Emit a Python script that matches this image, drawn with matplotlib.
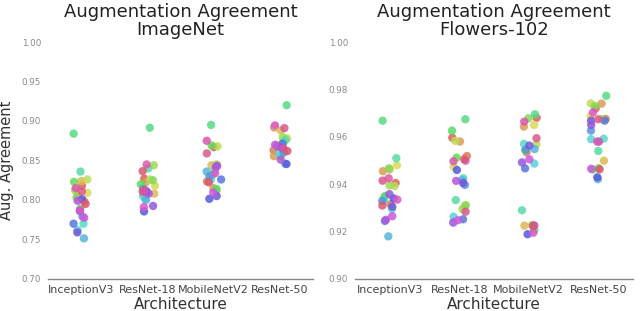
import numpy as np
import pandas as pd
import matplotlib
matplotlib.use("Agg")
import matplotlib.pyplot as plt
import seaborn as sns

architectures = ["InceptionV3", "ResNet-18", "MobileNetV2", "ResNet-50"]

# one value per run (hue index 0..25) for each architecture
imagenet_inception = [0.818, 0.798, 0.806, 0.824, 0.809, 0.826, 0.812, 0.803, 0.823, 0.789,
                      0.884, 0.836, 0.770, 0.762, 0.7515, 0.779, 0.770, 0.801, 0.759, 0.786,
                      0.799, 0.7775, 0.787, 0.815, 0.811, 0.795]
imagenet_resnet18 = [0.827, 0.815, 0.822, 0.808, 0.818, 0.826, 0.844, 0.825, 0.806, 0.820,
                     0.8915, 0.840, 0.802, 0.805, 0.800, 0.809, 0.813, 0.7855, 0.811, 0.7925,
                     0.808, 0.812, 0.791, 0.845, 0.8105, 0.8365]
imagenet_mobilenet = [0.867, 0.8235, 0.815, 0.844, 0.845, 0.868, 0.812, 0.8445, 0.869, 0.814,
                      0.895, 0.838, 0.826, 0.832, 0.836, 0.830, 0.826, 0.8015, 0.805, 0.842,
                      0.843, 0.8095, 0.834, 0.875, 0.859, 0.8225]
imagenet_resnet50 = [0.892, 0.863, 0.8555, 0.888, 0.893, 0.878, 0.8795, 0.856, 0.872, 0.869,
                     0.920, 0.876, 0.862, 0.858, 0.846, 0.860, 0.8715, 0.8455, 0.866, 0.868,
                     0.851, 0.870, 0.8945, 0.8655, 0.891, 0.862]

flowers_inception = [0.9405, 0.9315, 0.9455, 0.9462, 0.948, 0.9392, 0.9395, 0.9467, 0.935, 0.9345,
                     0.9668, 0.951, 0.9295, 0.9332, 0.918, 0.933, 0.9245, 0.934, 0.9305, 0.9358,
                     0.925, 0.9265, 0.9335, 0.9425, 0.9415, 0.931]
flowers_resnet18 = [0.9596, 0.9519, 0.958, 0.9307, 0.9474, 0.9583, 0.9295, 0.9312, 0.9512, 0.9626,
                    0.9674, 0.9333, 0.9425, 0.9263, 0.9418, 0.9397, 0.9252, 0.946, 0.9405, 0.9238,
                    0.9414, 0.9248, 0.9499, 0.9497, 0.9284, 0.9505]
flowers_mobilenet = [0.968, 0.9535, 0.9643, 0.9225, 0.965, 0.9568, 0.9228, 0.9678, 0.9544, 0.9207,
                     0.9695, 0.929, 0.957, 0.9487, 0.9548, 0.9545, 0.9467, 0.9189, 0.9563, 0.9492,
                     0.9226, 0.9505, 0.9195, 0.9664, 0.9594, 0.9224]
flowers_resnet50 = [0.972, 0.9675, 0.974, 0.9499, 0.9688, 0.9741, 0.9675, 0.973, 0.9467, 0.9462,
                    0.9773, 0.954, 0.9592, 0.959, 0.9421, 0.9626, 0.9668, 0.9429, 0.9668, 0.965,
                    0.958, 0.9465, 0.9703, 0.958, 0.9674, 0.9463]

imagenet_ticks = [0.70, 0.75, 0.80, 0.85, 0.90, 0.95, 1.00]
flowers_ticks = [0.90, 0.92, 0.94, 0.96, 0.98, 1.00]


def make_df(series):
    rows = []
    for arch, vals in zip(architectures, series):
        for run, v in enumerate(vals):
            rows.append({"Architecture": arch, "run": run, "value": v})
    return pd.DataFrame(rows)


df_img = make_df([imagenet_inception, imagenet_resnet18, imagenet_mobilenet, imagenet_resnet50])
df_flo = make_df([flowers_inception, flowers_resnet18, flowers_mobilenet, flowers_resnet50])

sns.set_style("white")
plt.rcParams['font.family'] = ['DejaVu Sans']

fig = plt.figure(figsize=(6.4, 3.11), dpi=100)
ax1 = fig.add_axes([48 / 640, 1 - 279 / 311, 265 / 640, 237 / 311])
ax2 = fig.add_axes([355 / 640, 1 - 279 / 311, 278 / 640, 237 / 311])

n_runs = len(imagenet_inception)
pal = sns.color_palette("hls", n_runs)

np.random.seed(3)
for ax, df, ticks, title, ylab in [
    (ax1, df_img, imagenet_ticks, "Augmentation Agreement\nImageNet", "Aug. Agreement"),
    (ax2, df_flo, flowers_ticks, "Augmentation Agreement\nFlowers-102", ""),
]:
    sns.stripplot(data=df, x="Architecture", y="value", hue="run", palette=pal,
                  order=architectures, jitter=0.12, size=6, alpha=0.85,
                  linewidth=0, legend=False, ax=ax)
    ax.set_ylim(ticks[0], ticks[-1])
    ax.set_xlim(-0.5, 3.5)
    ax.set_yticks(ticks)
    ax.set_yticklabels([f"{t:.2f}" for t in ticks], fontsize=6.3, color="#8a8a8a")
    ax.tick_params(axis="x", labelsize=8, colors="#444444", length=0, pad=4)
    ax.tick_params(axis="y", length=0, pad=5)
    ax.set_title(title, fontsize=13, color="#222222", pad=5, linespacing=1.0)
    ax.set_xlabel("Architecture", fontsize=11, color="#333333", labelpad=2)
    ax.set_ylabel(ylab, fontsize=10.5, color="#333333")
    for s in ["top", "right", "left"]:
        ax.spines[s].set_visible(False)
    ax.spines["bottom"].set_color("#888888")
    ax.spines["bottom"].set_linewidth(1.0)

ax1.yaxis.set_label_coords(-0.13, 0.5)

fig.savefig("out.png", dpi=100)
